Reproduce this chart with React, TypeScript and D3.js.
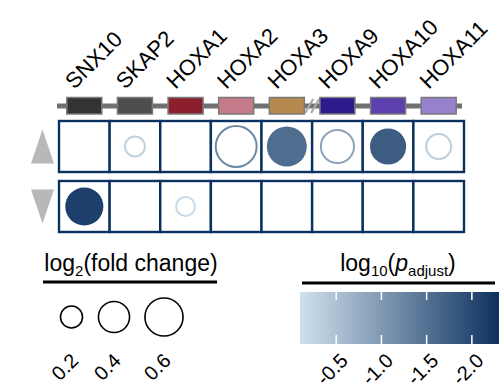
import React, { useEffect, useRef } from 'react';
import * as d3 from 'd3';

const genes = ['SNX10', 'SKAP2', 'HOXA1', 'HOXA2', 'HOXA3', 'HOXA9', 'HOXA10', 'HOXA11'];
const geneColors = ['#333333', '#4e4e4e', '#8c1f2c', '#c57b89', '#b5884e', '#2f1a8e', '#5c40ae', '#9581cc'];
const rows = ['up', 'down'];

// log2 fold change (null = not detected)
const upFC = [null, 0.2, null, 0.76, 0.66, 0.51, 0.54, 0.3];
const downFC = [0.6, null, 0.18, null, null, null, null, null];
// log10 adjusted p
const upP = [null, -0.28, null, -1.19, -1.55, -0.86, -1.76, -0.33];
const downP = [-2.12, null, -0.19, null, null, null, null, null];
// filled = significant
const upSig = [false, false, false, false, true, false, true, false];
const downSig = [true, false, false, false, false, false, false, false];

const sizeLegend = [0.2, 0.4, 0.6];
const colorTicks = [-0.5, -1.0, -1.5, -2.0];
const colorDomain = [-0.1, -2.3];

const FONT = "'Liberation Sans', Arial, sans-serif";

export default function App() {
  const svgRef = useRef<SVGSVGElement>(null);

  useEffect(() => {
    if (!svgRef.current) return;
    const svg = d3.select(svgRef.current);
    svg.selectAll('*').remove();

    const width = 499, height = 392;
    svg.append('rect').attr('width', width).attr('height', height).attr('fill', '#fff');

    const x = d3.scaleBand().domain(genes).range([59, 464]).padding(0);
    const y = d3.scaleBand().domain(rows).range([121, 232]).paddingInner(0.15);
    const r = d3.scaleSqrt().domain([0, 1]).range([0, 24.6]);
    const color = d3.scaleLinear<string>().domain(colorDomain).range(['#d0e1ed', '#0d315f']);
    const cx = (g: string) => (x(g) || 0) + x.bandwidth() / 2;

    // gene labels, rotated 45deg
    svg.append('g').selectAll('g')
      .data(genes)
      .enter().append('g')
      .attr('transform', d => `translate(${cx(d) - 10},90) rotate(-45)`)
      .append('text')
      .attr('font-family', FONT)
      .attr('font-size', '22px')
      .attr('fill', '#000')
      .text(d => d);

    // gene track line
    svg.append('line')
      .attr('x1', 57).attr('x2', 462).attr('y1', 106).attr('y2', 106)
      .attr('stroke', '#707070').attr('stroke-width', 5);

    // break marks between HOXA3 and HOXA9
    const brk = (cx('HOXA3') + cx('HOXA9')) / 2;
    [-3, 3].forEach(o => {
      svg.append('line')
        .attr('x1', brk + o - 4).attr('x2', brk + o + 4)
        .attr('y1', 113).attr('y2', 99)
        .attr('stroke', '#a8a8a8').attr('stroke-width', 2.2);
    });

    svg.append('g').selectAll('rect')
      .data(genes)
      .enter().append('rect')
      .attr('x', d => cx(d) - 17.5)
      .attr('y', 97.5)
      .attr('width', 35)
      .attr('height', 16.5)
      .attr('fill', (d, i) => geneColors[i])
      .attr('stroke', '#7a7a7a')
      .attr('stroke-width', 1.5);

    // grid cells
    const cells = rows.flatMap(row => genes.map((g, i) => ({
      row, gene: g,
      fc: row === 'up' ? upFC[i] : downFC[i],
      p: row === 'up' ? upP[i] : downP[i],
      sig: row === 'up' ? upSig[i] : downSig[i],
    })));

    svg.append('g').selectAll('rect')
      .data(cells)
      .enter().append('rect')
      .attr('x', d => x(d.gene) || 0)
      .attr('y', d => y(d.row) || 0)
      .attr('width', x.bandwidth())
      .attr('height', y.bandwidth())
      .attr('fill', '#fff')
      .attr('stroke', '#0b3160')
      .attr('stroke-width', 2.4);

    const pts = cells.filter(d => d.fc != null);
    svg.append('g').selectAll('circle')
      .data(pts)
      .enter().append('circle')
      .attr('cx', d => cx(d.gene))
      .attr('cy', d => (y(d.row) || 0) + y.bandwidth() / 2)
      .attr('r', d => d.sig ? r(d.fc as number) : r(d.fc as number) - 1)
      .attr('fill', d => d.sig ? color(d.p as number) : 'none')
      .attr('stroke', d => d.sig ? 'none' : color(d.p as number))
      .attr('stroke-width', 2);

    // direction triangles
    const triX = 42.5, triW = 23, triH = 34;
    const upY = (y('up') || 0) + y.bandwidth() / 2;
    const dnY = (y('down') || 0) + y.bandwidth() / 2;
    svg.append('path')
      .attr('d', `M${triX},${upY - triH / 2}L${triX + triW / 2},${upY + triH / 2}L${triX - triW / 2},${upY + triH / 2}Z`)
      .attr('fill', '#b8b8b8');
    svg.append('path')
      .attr('d', `M${triX - triW / 2},${dnY - triH / 2}L${triX + triW / 2},${dnY - triH / 2}L${triX},${dnY + triH / 2}Z`)
      .attr('fill', '#b8b8b8');

    // size legend
    const t1 = svg.append('text')
      .attr('x', 131).attr('y', 271)
      .attr('text-anchor', 'middle')
      .attr('font-family', FONT).attr('font-size', '23px').attr('fill', '#000');
    t1.append('tspan').text('log');
    t1.append('tspan').attr('font-size', '15px').attr('dy', 5).text('2');
    t1.append('tspan').attr('dy', -5).text('(fold change)');
    svg.append('line').attr('x1', 43).attr('x2', 217).attr('y1', 282).attr('y2', 282)
      .attr('stroke', '#000').attr('stroke-width', 3);

    const sizeX = d3.scaleOrdinal<number, number>().domain(sizeLegend).range([71.5, 114, 164]);
    svg.append('g').selectAll('circle')
      .data(sizeLegend)
      .enter().append('circle')
      .attr('cx', d => sizeX(d))
      .attr('cy', 317)
      .attr('r', d => r(d))
      .attr('fill', 'none')
      .attr('stroke', '#000')
      .attr('stroke-width', 1.6);
    svg.append('g').selectAll('g')
      .data(sizeLegend)
      .enter().append('g')
      .attr('transform', d => `translate(${sizeX(d) + 8},362) rotate(-45)`)
      .append('text')
      .attr('text-anchor', 'end')
      .attr('font-family', FONT).attr('font-size', '20px').attr('fill', '#000')
      .text(d => d3.format('.1f')(d));

    // color legend
    const t2 = svg.append('text')
      .attr('x', 398).attr('y', 271)
      .attr('text-anchor', 'middle')
      .attr('font-family', FONT).attr('font-size', '23px').attr('fill', '#000');
    t2.append('tspan').text('log');
    t2.append('tspan').attr('font-size', '15px').attr('dy', 5).text('10');
    t2.append('tspan').attr('dy', -5).text('(');
    t2.append('tspan').attr('font-style', 'italic').text('p');
    t2.append('tspan').attr('font-size', '15px').attr('dy', 5).text('adjust');
    t2.append('tspan').attr('dy', -5).text(')');
    svg.append('line').attr('x1', 302).attr('x2', 495).attr('y1', 283).attr('y2', 283)
      .attr('stroke', '#000').attr('stroke-width', 3);

    const cbX = d3.scaleLinear().domain(colorDomain).range([300, 499]);
    const grad = svg.append('defs').append('linearGradient')
      .attr('id', 'pgrad').attr('x1', '0%').attr('x2', '100%');
    grad.append('stop').attr('offset', '0%').attr('stop-color', color(colorDomain[0]));
    grad.append('stop').attr('offset', '100%').attr('stop-color', color(colorDomain[1]));
    const cbTop = 292, cbH = 52;
    svg.append('rect')
      .attr('x', cbX(colorDomain[0])).attr('y', cbTop)
      .attr('width', cbX(colorDomain[1]) - cbX(colorDomain[0])).attr('height', cbH)
      .attr('fill', 'url(#pgrad)');

    const tk = svg.append('g');
    colorTicks.forEach(v => {
      tk.append('line').attr('x1', cbX(v)).attr('x2', cbX(v)).attr('y1', cbTop).attr('y2', cbTop + 8)
        .attr('stroke', '#fff').attr('stroke-width', 1.5);
      tk.append('line').attr('x1', cbX(v)).attr('x2', cbX(v)).attr('y1', cbTop + cbH - 9).attr('y2', cbTop + cbH)
        .attr('stroke', '#fff').attr('stroke-width', 1.5);
    });
    svg.append('g').selectAll('g')
      .data(colorTicks)
      .enter().append('g')
      .attr('transform', d => `translate(${cbX(d) + 13},362) rotate(-45)`)
      .append('text')
      .attr('text-anchor', 'end')
      .attr('font-family', FONT).attr('font-size', '20px').attr('fill', '#000')
      .text(d => d3.format('.1f')(d).replace('−', '-'));
  }, []);

  return (
    <svg
      ref={svgRef}
      width={499}
      height={392}
      style={{ position: 'absolute', left: 0, top: 0, display: 'block' }}
    />
  );
}
